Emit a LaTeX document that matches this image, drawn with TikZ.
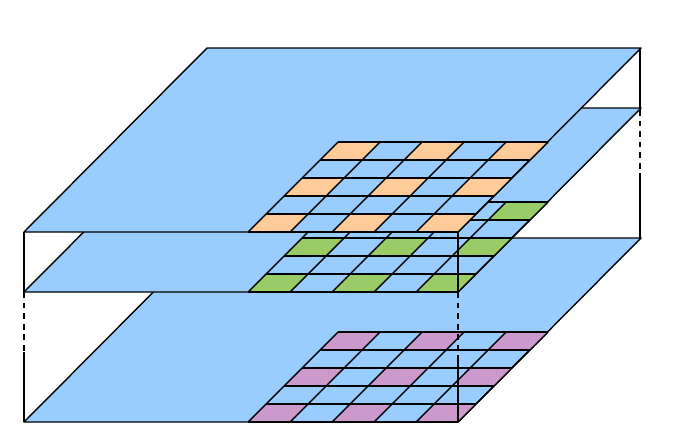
\documentclass[tikz,border=0pt]{standalone}
\definecolor{sheetblue}{RGB}{153,204,255}
\definecolor{cellorange}{RGB}{255,204,153}
\definecolor{cellgreen}{RGB}{153,204,102}
\definecolor{cellpurple}{RGB}{204,153,204}
\def\sheet#1#2{
  % 1: y of the front edge
  % 2: colour of the marked cells
  \begin{scope}[shift={(0,#1)}]
    \filldraw[fill=sheetblue] (24,0) -- (458,0) -- ++(183,-184) -- (207,-184) -- cycle;
    \foreach \j in {0,2,4} \foreach \i in {0,2,4}
      \fill[#2] (248+42*\i+18*\j,-18*\j) -- ++(42,0) -- ++(18,-18) -- ++(-42,0) -- cycle;
    \foreach \j in {0,...,5} \draw (248+18*\j,-18*\j) -- ++(210,0);
    \foreach \i in {0,...,5} \draw (248+42*\i,0) -- ++(90,-90);
  \end{scope}
}
\begin{document}
\begin{tikzpicture}[x=0.03cm,y=-0.03cm,line width=1.2pt,line join=round]
  \useasboundingbox (0,0) rectangle (675,435);
  % bottom sheet
  \sheet{422}{cellpurple}
  \draw (458,357) -- (458,422);
  \draw[dashed,dash pattern=on 5pt off 4pt] (458,292) -- (458,357);
  \draw (24,352) -- (24,422);
  \draw[dash pattern=on 5pt off 4pt] (24,292) -- (24,352);
  \draw (640,175) -- (640,238);
  \draw[dash pattern=on 5pt off 4pt] (640,110) -- (640,175);
  % middle sheet
  \sheet{292}{cellgreen}
  \draw (458,232) -- (458,292);
  \draw (24,232) -- (24,292);
  % top sheet
  \sheet{232}{cellorange}
  \draw (640,48) -- (640,110);
\end{tikzpicture}
\end{document}
